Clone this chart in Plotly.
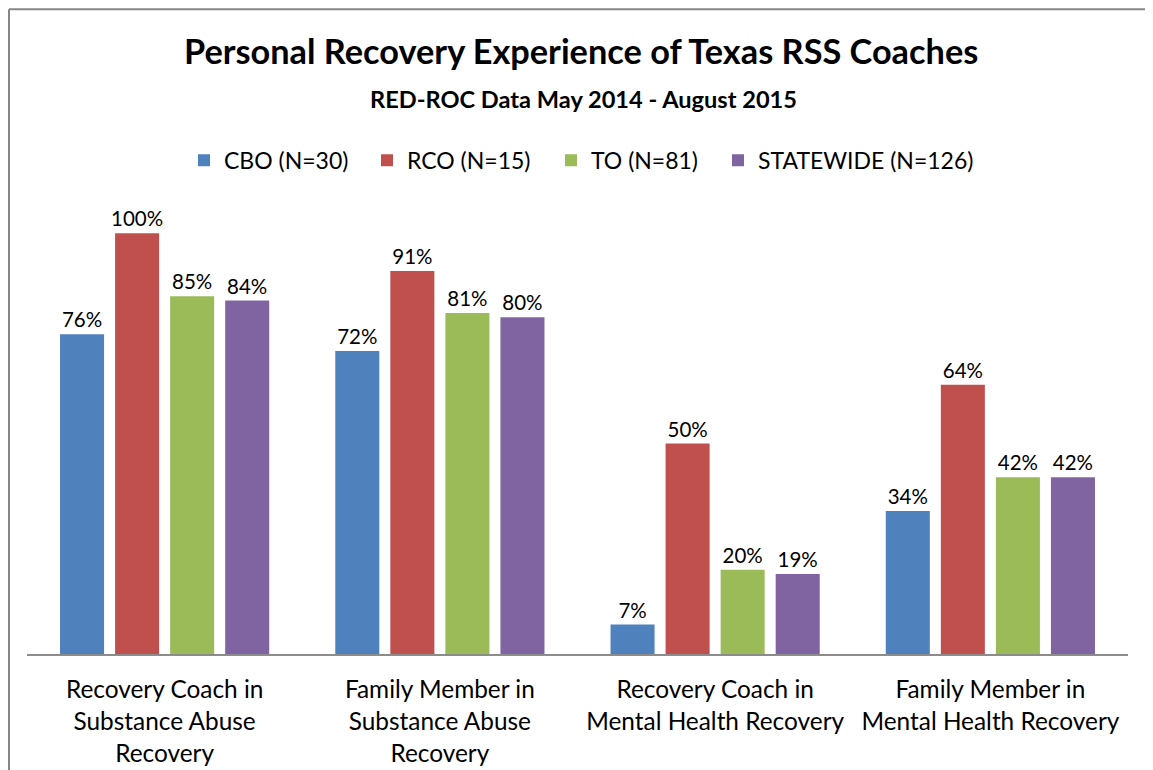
import plotly.graph_objects as go

categories = [
    "Recovery Coach in<br>Substance Abuse<br>Recovery",
    "Family Member in<br>Substance Abuse<br>Recovery",
    "Recovery Coach in<br>Mental Health Recovery",
    "Family Member in<br>Mental Health Recovery",
]
series_names = ["CBO (N=30)", "RCO (N=15)", "TO (N=81)", "STATEWIDE (N=126)"]
cbo = [76, 72, 7, 34]
rco = [100, 91, 50, 64]
to = [85, 81, 20, 42]
statewide = [84, 80, 19, 42]
colors = ["#4F81BD", "#C0504D", "#9BBB59", "#8064A2"]
legend_left = [184, 367, 551, 718]   # page x of each legend entry

FONT = "Lato"
# page has an 8px body margin
OFF = 8
W, H = 1153 - 2 * OFF, 770 - OFF
L = 27 - OFF
R = W - (1128 - OFF)
B = H - (654 - OFF)
PH = 421 * 1.2
T = H - B - PH
pw = W - L - R


def py(page_y):
    return (H - B - (page_y - OFF)) / PH


def px(page_x):
    return ((page_x - OFF) - L) / pw


legend_ids = ["legend", "legend2", "legend3", "legend4"]

fig = go.Figure()
for name, vals, c, lg in zip(series_names, [cbo, rco, to, statewide], colors, legend_ids):
    fig.add_trace(go.Bar(
        x=categories, y=vals, name=name, legend=lg,
        marker=dict(color=c, line=dict(width=0)),
        text=[f"{v}%" for v in vals],
        textposition="outside",
        constraintext="none",
        textfont=dict(family=FONT, size=20.5, color="#000000"),
        cliponaxis=False,
    ))

legend_layout = {}
for lg, lx in zip(legend_ids, legend_left):
    legend_layout[lg] = dict(orientation="h", x=px(lx), xanchor="left", y=py(160), yanchor="middle",
                             font=dict(family=FONT, size=23), itemwidth=30, itemclick=False,
                             bgcolor="rgba(0,0,0,0)")

fig.update_layout(
    width=W, height=H,
    margin=dict(l=L, r=R, t=T, b=B, autoexpand=False),
    paper_bgcolor="white", plot_bgcolor="white",
    barmode="group", bargap=0.2, bargroupgap=0.2,
    uniformtext=dict(mode=False),
    font=dict(family=FONT, color="#000000"),
    showlegend=True,
    **legend_layout,
    annotations=[
        dict(text="<b>Personal Recovery Experience of Texas RSS Coaches</b>", xref="paper", yref="paper",
             x=px(581), y=py(50), xanchor="center", yanchor="middle", showarrow=False,
             font=dict(family=FONT, size=34.3)),
        dict(text="<b>RED-ROC Data May 2014 - August 2015</b>", xref="paper", yref="paper",
             x=px(583), y=py(99), xanchor="center", yanchor="middle", showarrow=False,
             font=dict(family=FONT, size=23.6)),
    ],
    shapes=[
        dict(type="line", xref="paper", yref="paper",
             x0=px(OFF + 1), x1=px(OFF + 1), y0=py(800), y1=py(OFF + 1),
             line=dict(color="#868686", width=2), layer="below"),
        dict(type="line", xref="paper", yref="paper",
             x0=px(OFF + 1), x1=px(1180), y0=py(OFF + 1), y1=py(OFF + 1),
             line=dict(color="#868686", width=2), layer="below"),
    ],
)
fig.update_xaxes(showline=True, linecolor="#8C8C8C", linewidth=2, ticks="", automargin=False,
                 tickfont=dict(family=FONT, size=24.4), ticklabelstandoff=13, showgrid=False)
fig.update_yaxes(range=[0, 120], visible=False, showgrid=False, zeroline=False, automargin=False)

fig.write_html("out.html")
